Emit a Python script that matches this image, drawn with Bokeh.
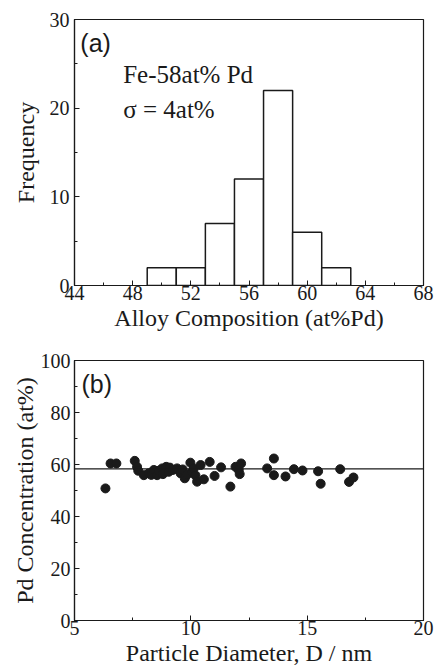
from bokeh.plotting import figure
from bokeh.layouts import column
from bokeh.models import Range1d, SingleIntervalTicker, Span, Label, ColumnDataSource
from bokeh.embed import file_html
from bokeh.resources import INLINE

# ---- Panel (a): composition histogram ----
bin_left = [49, 51, 53, 55, 57, 59, 61]
bin_right = [51, 53, 55, 57, 59, 61, 63]
frequency = [2, 2, 7, 12, 22, 6, 2]

# ---- Panel (b): Pd concentration vs particle diameter ----
diameter_nm = [6.33, 6.55, 6.80, 7.59, 7.69, 7.74, 7.98, 8.19, 8.30, 8.41,
               8.55, 8.62, 8.77, 8.80, 8.94, 9.05, 9.10, 9.22, 9.41, 9.50,
               9.56, 9.65, 9.74, 9.85, 9.98, 10.06, 10.13, 10.20, 10.27, 10.42,
               10.56, 10.81, 11.02, 11.30, 11.70, 11.92, 12.06, 12.10, 12.16, 13.28,
               13.57, 13.57, 14.07, 14.43, 14.80, 15.47, 15.58, 16.42, 16.80, 16.99]
pd_conc = [50.8, 60.4, 60.4, 61.4, 59.1, 57.6, 55.9, 56.6, 56.0, 57.9,
           55.9, 57.6, 58.5, 56.3, 59.1, 57.2, 58.8, 57.9, 58.5, 57.8,
           56.6, 58.1, 54.7, 56.2, 60.7, 57.2, 58.5, 55.8, 53.4, 59.8,
           54.3, 61.0, 55.6, 58.9, 51.5, 59.1, 57.9, 56.3, 60.4, 58.5,
           62.3, 55.9, 55.4, 58.2, 57.7, 57.4, 52.6, 58.2, 53.3, 55.0]
mean_pd = 58.3

SERIF = "Liberation Serif"
SANS = "Liberation Sans"
INK = "#1a1a1a"


def style(p, ylab_standoff, ytick_standoff):
    p.grid.visible = False
    p.outline_line_color = INK
    p.outline_line_width = 1.2
    p.background_fill_color = "white"
    p.border_fill_color = "white"
    for ax in (p.xaxis[0], p.yaxis[0]):
        ax.axis_line_color = INK
        ax.axis_line_width = 1.2
        ax.major_tick_line_color = INK
        ax.minor_tick_line_color = INK
        ax.major_tick_in = 5
        ax.major_tick_out = 0
        ax.minor_tick_in = 3
        ax.minor_tick_out = 0
        ax.major_label_text_font = SERIF
        ax.major_label_text_font_size = "20px"
        ax.major_label_text_color = INK
        ax.axis_label_text_font = SERIF
        ax.axis_label_text_font_size = "24px"
        ax.axis_label_text_font_style = "normal"
        ax.axis_label_text_color = INK
    p.xaxis.major_label_standoff = 0
    p.xaxis.axis_label_standoff = 2
    p.yaxis.major_label_standoff = ytick_standoff
    p.yaxis.axis_label_standoff = ylab_standoff


pa = figure(width=436, height=337, output_backend="svg", toolbar_location=None,
            x_range=Range1d(44, 68), y_range=Range1d(0, 30),
            min_border_left=69, min_border_right=11, min_border_top=19, min_border_bottom=52)
pa.quad(left=bin_left, right=bin_right, bottom=0, top=frequency,
        fill_color="white", line_color=INK, line_width=1.5)
style(pa, 8, 5)
pa.xaxis.ticker = SingleIntervalTicker(interval=4, num_minor_ticks=2)
pa.yaxis.ticker = SingleIntervalTicker(interval=10, num_minor_ticks=2)
pa.xaxis.axis_label = "Alloy Composition (at%Pd)"
pa.yaxis.axis_label = "Frequency"
pa.add_layout(Label(x=44.4, y=27.3, text="(a)", text_font=SANS, text_font_size="25px",
                    text_color=INK, text_baseline="alphabetic"))
pa.add_layout(Label(x=47.35, y=23.8, text="Fe-58at% Pd", text_font=SERIF, text_font_size="25px",
                    text_color=INK, text_baseline="alphabetic"))
pa.add_layout(Label(x=47.35, y=19.9, text="\u03c3 = 4at%", text_font=SERIF, text_font_size="25px",
                    text_color=INK, text_baseline="alphabetic"))

pb = figure(width=436, height=331, output_backend="svg", toolbar_location=None,
            x_range=Range1d(5, 20), y_range=Range1d(0, 100),
            min_border_left=74, min_border_right=13, min_border_top=23, min_border_bottom=47)
pb.add_layout(Span(location=mean_pd, dimension="width", line_color=INK, line_width=1.3))
src = ColumnDataSource(dict(d=diameter_nm, c=pd_conc))
pb.scatter("d", "c", source=src, size=9, fill_color=INK, line_color=INK)
style(pb, 0, 4)
pb.xaxis.ticker = SingleIntervalTicker(interval=5, num_minor_ticks=2)
pb.yaxis.ticker = SingleIntervalTicker(interval=20, num_minor_ticks=2)
pb.xaxis.axis_label = "Particle Diameter, D / nm"
pb.yaxis.axis_label = "Pd Concentration (at%)"
pb.add_layout(Label(x=5.3, y=90.8, text="(b)", text_font=SANS, text_font_size="25px",
                    text_color=INK, text_baseline="alphabetic"))

layout = column(pa, pb, spacing=0)
open("out.html", "w").write(file_html(layout, INLINE))
